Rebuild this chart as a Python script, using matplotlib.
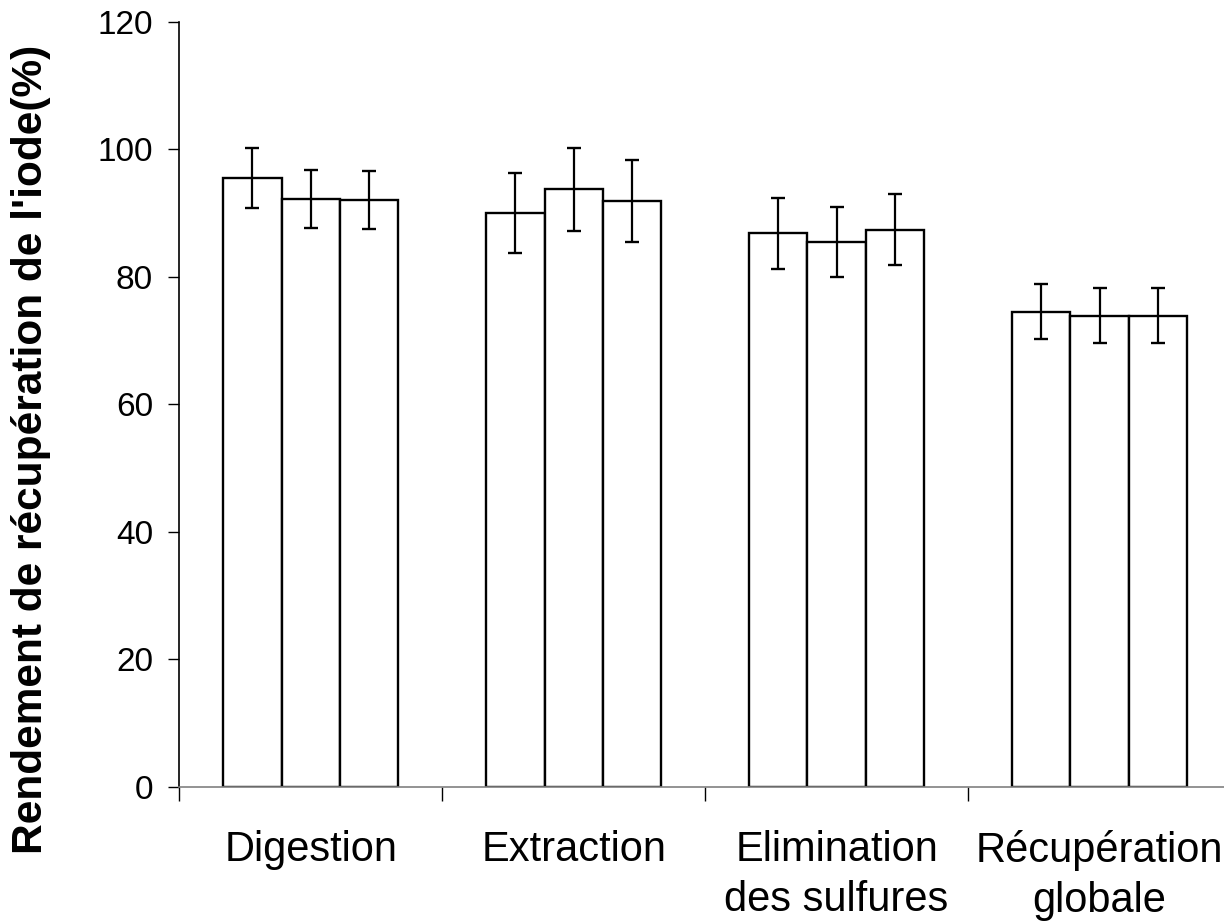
import numpy as np
from matplotlib import pyplot as plt

plt.rcParams['font.family'] = ['Liberation Sans', 'DejaVu Sans']

categories = ['Digestion', 'Extraction', 'Elimination\ndes sulfures', 'Récupération\nglobale']
serie1 = [95.5, 90.0, 86.8, 74.5]
serie2 = [92.2, 93.7, 85.5, 73.9]
serie3 = [92.1, 91.9, 87.4, 73.9]
err1 = [4.7, 6.3, 5.6, 4.35]
err2 = [4.55, 6.55, 5.5, 4.35]
err3 = [4.55, 6.45, 5.6, 4.35]
yticks = [0, 20, 40, 60, 80, 100, 120]

fig = plt.figure(figsize=(12.24, 9.22), dpi=100)
axis = fig.add_axes([179.3 / 1224, 135.3 / 922, 1051.7 / 1224, 765 / 922])

centers = np.arange(len(categories)) + 0.5
width = 0.2218
for offset, values, errors in zip([-width, 0, width], [serie1, serie2, serie3], [err1, err2, err3]):
    axis.bar(centers + offset, values, width, color='white', edgecolor='black', linewidth=1.7, zorder=2)
    axis.errorbar(centers + offset, values, yerr=errors, fmt='none', ecolor='black',
                  elinewidth=1.6, capsize=5, capthick=1.7, zorder=3)

axis.set_xlim(0, len(categories))
axis.set_ylim(0, 120)
axis.set_yticks(yticks)
axis.set_xticks(np.arange(len(categories) + 1))
axis.set_xticklabels([])
axis.set_xticks(centers, minor=True)
axis.set_xticklabels(categories, minor=True, linespacing=1.33)
axis.tick_params(axis='x', which='major', direction='out', length=10, width=1, color='black')
axis.tick_params(axis='x', which='minor', length=0, pad=31, labelsize=30)
axis.tick_params(axis='y', direction='out', length=8, width=1, pad=11, labelsize=24)

axis.spines['top'].set_visible(False)
axis.spines['right'].set_visible(False)
axis.spines['bottom'].set_color('#808080')
axis.spines['bottom'].set_linewidth(1.2)
axis.spines['left'].set_linewidth(1.2)

fig.text(31 / 1224, 1 - 449 / 922, "Rendement de récupération de l'iode(%)", rotation=90,
         fontsize=30.5, fontweight='bold', ha='center', va='center')

fig.savefig('out.png', dpi=100)
